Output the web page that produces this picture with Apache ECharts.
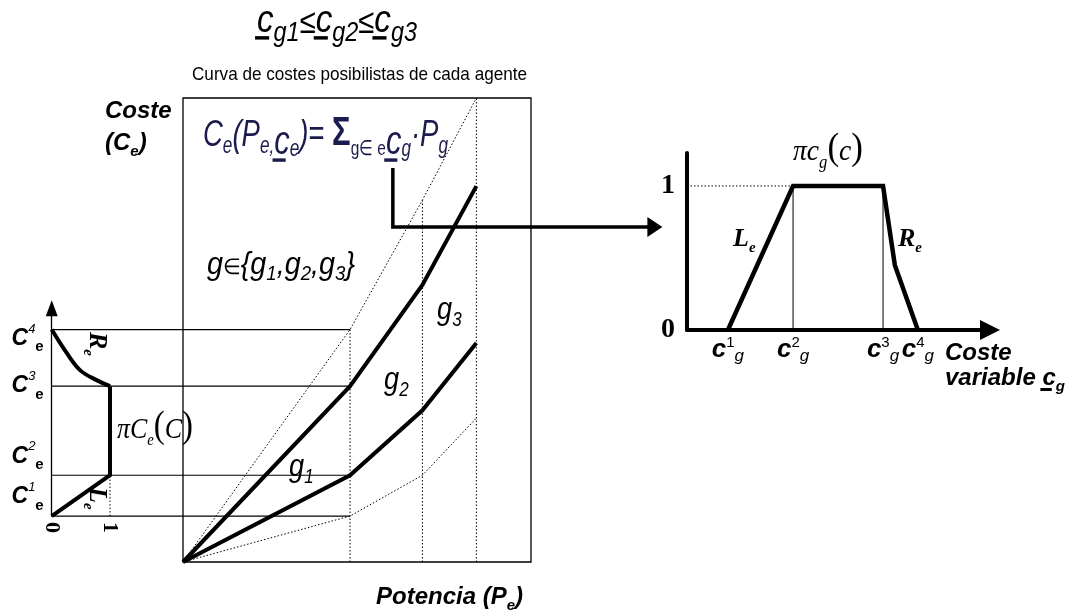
<!DOCTYPE html>
<html>
<head>
<meta charset="utf-8">
<title>Curva de costes posibilistas de cada agente</title>
<script src="https://cdn.jsdelivr.net/npm/echarts@6/dist/echarts.min.js"></script>
<style>
  html, body { margin: 0; padding: 0; background: #fff; }
  #chart { width: 1070px; height: 614px; }
</style>
</head>
<body>
<div id="chart"></div>
<script>
// ---- data, in axis units ----
// main chart: power P (x) against cost C (y), both 0..100
const powerSteps = [0, 48, 68.8, 84.3]
const costG1 = [0, 18.7, 32.7, 47.2]
const costG3 = [0, 37.9, 59.7, 81.0]
const costBoundHigh = [0, 50.1, 78.0, 100]
const costBoundLow = [0, 9.9, 18.7, 31.0]
const costLevels = [9.9, 18.7, 37.9, 50.1] // C1e .. C4e
const costAxisTop = 54.7

// left: possibility of the total cost (rotated)
const leftPoss = [0, 1, 1]
const leftCost = [9.9, 18.7, 37.9]
const tailPoss = [1, 0.77, 0.49, 0.26, 0]
const tailCost = [37.9, 39.2, 41.3, 45.0, 50.1]
const possTicks = [0, 1]

// right: trapezoid of the variable cost c_g
const cgTicks = [13.5, 35.0, 64.7, 76.2]
const trapCost = [13.5, 35.0, 64.7, 68.6, 76.2]
const trapPoss = [0, 1, 1, 0.45, 0]

// connector from the formula to the trapezoid (main chart units)
const linkP = [60.3, 60.3, 135.6]
const linkC = [84.9, 72.2, 72.2]

// ---- layout ----
const MAIN = { left: 183, top: 98, width: 348, height: 464 }
const pxC = MAIN.height / 100
const pxP = MAIN.width / 100
const miniLeft = 51.7
const miniWidth = 58.3
const miniTop = MAIN.top + (100 - costAxisTop) * pxC
const miniBottom = MAIN.top + (100 - costLevels[0]) * pxC
// overlay grid with the main scales, stretched left to the cost axis and right to the trapezoid
const overStartP = (miniLeft - MAIN.left) / pxP
const overEndP = 140

const zip = (xs, ys) => xs.map((x, i) => [x, ys[i]])

function lineSeries(grid, data, width, dash, extra) {
  return Object.assign({
    type: 'line', xAxisIndex: grid, yAxisIndex: grid, data,
    showSymbol: false, symbol: 'none', silent: true, animation: false,
    lineStyle: { color: '#000', width, type: dash || 'solid', cap: 'butt', join: 'miter' },
    z: width > 2 ? 4 : 3
  }, extra || {})
}

// small text layout helper: runs of text with sub/superscripts and underlines
const mctx = document.createElement('canvas').getContext('2d')
function mathText(x, y, runs, o) {
  o = o || {}
  const color = o.color || '#000'
  const kids = []
  let cx = 0
  runs.forEach(r => {
    const font = `${r.st || o.st || 'italic'} ${r.w || o.w || 'normal'} ${r.s}px "${r.f || o.f || 'Liberation Sans'}"`
    mctx.font = font
    const w = mctx.measureText(r.t).width
    const base = r.dy || 0
    kids.push({
      type: 'text', x: cx, y: base - 0.345 * r.s,
      style: { text: r.t, font, fill: color, align: 'left', verticalAlign: 'middle', textAlign: 'left', textVerticalAlign: 'middle' }
    })
    if (r.u) kids.push({ type: 'rect', shape: { x: cx - 2, y: base + 1, width: w * 0.85, height: 3 }, style: { fill: color } })
    cx += w
  })
  const sx = o.width ? o.width / cx : (o.sx || 1)
  return { type: 'group', x, y, scaleX: sx, scaleY: o.sy || 1, rotation: o.rot || 0, silent: true, children: kids }
}

const series = []
// guide lines at the cost levels, from the cost axis to the first step
costLevels.forEach(c => series.push(lineSeries(3, [[overStartP, c], [powerSteps[1], c]], 1.2)))
// dotted verticals at the power steps
powerSteps.slice(1).forEach((p, i) => series.push(lineSeries(0, [[p, 0], [p, costBoundHigh[i + 1]]], 1, [1.5, 2])))
series.push(lineSeries(0, zip(powerSteps, costBoundHigh), 1, [1.5, 2]))
series.push(lineSeries(0, zip(powerSteps, costBoundLow), 1, [1.5, 2]))
series.push(lineSeries(0, zip(powerSteps, costG1), 4))
series.push(lineSeries(0, zip(powerSteps, costG3), 4))
// connector with arrow head
series.push(lineSeries(3, zip(linkP, linkC).map((v, i) => i === linkP.length - 1
  ? { value: v, symbol: 'triangle', symbolSize: [20, 15], symbolRotate: -90 }
  : { value: v, symbol: 'none' }), 3.5, 'solid', { showSymbol: true, itemStyle: { color: '#000' }, z: 6 }))

// left possibility curve
series.push(lineSeries(1, zip(leftPoss, leftCost), 4, 'solid', { clip: false }))
series.push(lineSeries(1, zip(tailPoss, tailCost), 4, 'solid', { clip: false, smooth: 0.35 }))
series.push(lineSeries(1, [[1, leftCost[0]], [1, leftCost[1]]], 1, [1.5, 2], { clip: false }))

// right trapezoid
series.push(lineSeries(2, [[0, 1], [cgTicks[1], 1]], 1, [1.5, 2]))
series.push(lineSeries(2, [[cgTicks[1], 0], [cgTicks[1], 1]], 1))
series.push(lineSeries(2, [[cgTicks[2], 0], [cgTicks[2], 1]], 1))
series.push(lineSeries(2, zip(trapCost, trapPoss), 4.5))

const hidden = { show: false }
const SANS = 'Liberation Sans'
const SERIF = 'Liberation Serif'

// cost level labels C^k_e, split over two stacked axes so their boxes never collide
const costRich = {
  C: { fontSize: 23, fontWeight: 'bold', fontStyle: 'italic', fontFamily: SANS, lineHeight: 32, color: '#000' },
  sup: { fontSize: 13, fontStyle: 'italic', fontFamily: SANS, lineHeight: 20, verticalAlign: 'top', color: '#000' },
  sub: { fontSize: 15, fontWeight: 'bold', fontFamily: SANS, lineHeight: 10, verticalAlign: 'bottom', color: '#000' },
  gap: { fontSize: 2, lineHeight: 3 },
  gap2: { fontSize: 2, lineHeight: 18 }
}
function costLabel(v) {
  const i = costLevels.findIndex(t => Math.abs(t - v) < 1e-6)
  const t = `{C|C}{sup|${i + 1}}{sub|e}`
  if (i < 2) return t + '\n{gap| }'
  if (i === 3) return '{gap2| }\n' + t
  return t
}

const option = {
  backgroundColor: '#fff',
  animation: false,
  grid: [
    { left: MAIN.left, top: MAIN.top, width: MAIN.width, height: MAIN.height, show: true, borderColor: '#000', borderWidth: 1.3, backgroundColor: 'transparent', outerBoundsMode: 'none' },
    { left: miniLeft, top: miniTop, width: miniWidth, height: miniBottom - miniTop, outerBoundsMode: 'none' },
    { left: 687, top: 153, width: 303, height: 177, outerBoundsMode: 'none' },
    { left: miniLeft, top: MAIN.top, width: (overEndP - overStartP) * pxP, height: MAIN.height, outerBoundsMode: 'none' }
  ],
  xAxis: [
    { gridIndex: 0, type: 'value', min: 0, max: 100, show: false },
    {
      gridIndex: 1, type: 'value', min: 0, max: 1,
      axisLine: hidden, axisTick: hidden, splitLine: hidden,
      axisLabel: { customValues: possTicks, rotate: -90, margin: 6, fontFamily: SERIF, fontWeight: 'bold', fontSize: 22, color: '#000', showMinLabel: true, showMaxLabel: true, hideOverlap: false }
    },
    {
      gridIndex: 2, type: 'value', min: 0, max: 100,
      axisLine: { show: true, lineStyle: { color: '#000', width: 4 }, symbol: ['none', 'triangle'], symbolSize: [20, 20] },
      axisTick: hidden, splitLine: hidden,
      axisLabel: {
        customValues: cgTicks, margin: 5, color: '#000', hideOverlap: false,
        formatter: v => {
          const i = cgTicks.findIndex(t => Math.abs(t - v) < 1e-6)
          return `{c|c}{sup|${i + 1}}{sub|g}`
        },
        rich: {
          c: { fontSize: 26, fontWeight: 'bold', fontStyle: 'italic', fontFamily: SANS, lineHeight: 30, color: '#000' },
          sup: { fontSize: 15, fontFamily: SANS, lineHeight: 25, verticalAlign: 'top', color: '#000' },
          sub: { fontSize: 17, fontStyle: 'italic', fontFamily: SANS, lineHeight: 15, verticalAlign: 'bottom', color: '#000' }
        }
      }
    },
    { gridIndex: 3, type: 'value', min: overStartP, max: overEndP, show: false }
  ],
  yAxis: [
    { gridIndex: 0, type: 'value', min: 0, max: 100, show: false },
    {
      gridIndex: 1, type: 'value', min: costLevels[0], max: costAxisTop, position: 'left',
      axisLine: { show: true, lineStyle: { color: '#000', width: 1.3 }, symbol: ['none', 'triangle'], symbolSize: [12, 16] },
      axisTick: hidden, splitLine: hidden,
      axisLabel: {
        customValues: costLevels.slice(0, 2), margin: 8, color: '#000', verticalAlign: 'bottom',
        showMinLabel: true, showMaxLabel: true, hideOverlap: false,
        formatter: costLabel, rich: costRich
      }
    },
    {
      gridIndex: 2, type: 'value', min: 0, max: 1.229,
      axisLine: { show: true, lineStyle: { color: '#000', width: 4 } },
      axisTick: hidden, splitLine: hidden,
      axisLabel: { customValues: possTicks, margin: 12, fontFamily: SERIF, fontWeight: 'bold', fontSize: 28, color: '#000', showMinLabel: true, hideOverlap: false }
    },
    { gridIndex: 3, type: 'value', min: 0, max: 100, show: false },
    {
      gridIndex: 1, type: 'value', min: costLevels[0], max: costAxisTop, position: 'left', offset: 0,
      axisLine: hidden, axisTick: hidden, splitLine: hidden,
      axisLabel: {
        customValues: costLevels.slice(2), margin: 8, color: '#000',
        showMinLabel: true, showMaxLabel: true, hideOverlap: false,
        formatter: costLabel, rich: costRich
      }
    }
  ],
  series,
  graphic: [
    mathText(257, 35, [
      { t: 'c', s: 34, u: 1 }, { t: 'g1', s: 24, dy: 7 }, { t: '≤', s: 30, st: 'normal' },
      { t: 'c', s: 34, u: 1 }, { t: 'g2', s: 24, dy: 7 }, { t: '≤', s: 30, st: 'normal' },
      { t: 'c', s: 34, u: 1 }, { t: 'g3', s: 24, dy: 7 }
    ], { width: 160, sy: 1.15 }),
    mathText(192, 81, [{ t: 'Curva de costes posibilistas de cada agente', s: 19, st: 'normal' }], { width: 335 }),
    mathText(105, 120, [{ t: 'Coste', s: 24 }], { w: 'bold' }),
    mathText(105, 152, [{ t: '(', s: 24 }, { t: 'C', s: 24 }, { t: 'e', s: 15, dy: 5 }, { t: ')', s: 24 }], { w: 'bold' }),
    mathText(203, 148, [
      { t: 'C', s: 32 }, { t: 'e', s: 20, dy: 6 }, { t: '(', s: 32 }, { t: 'P', s: 32 }, { t: 'e', s: 20, dy: 6 }, { t: ',', s: 20, dy: 6 },
      { t: 'c', s: 36, dy: 8, u: 1 }, { t: 'e', s: 20, dy: 8 }, { t: ')', s: 32 }, { t: '= ', s: 32, st: 'normal' },
      { t: 'Σ', s: 36, st: 'normal', w: 'bold' }, { t: 'g∈ e', s: 18, dy: 7, st: 'normal' },
      { t: 'c', s: 36, dy: 8, u: 1 }, { t: 'g', s: 20, dy: 8 }, { t: '·', s: 32 }, { t: 'P', s: 32 }, { t: 'g', s: 20, dy: 6 }
    ], { width: 245, sy: 1.15, color: '#1b1b4d' }),
    mathText(207, 276, [
      { t: 'g', s: 31 }, { t: '∈', s: 22, st: 'normal' }, { t: '{', s: 31 },
      { t: 'g', s: 31 }, { t: '1', s: 20, dy: 5 }, { t: ',', s: 31 },
      { t: 'g', s: 31 }, { t: '2', s: 20, dy: 5 }, { t: ',', s: 31 },
      { t: 'g', s: 31 }, { t: '3', s: 20, dy: 5 }, { t: '}', s: 31 }
    ], { width: 148 }),
    mathText(289, 478, [{ t: 'g', s: 32 }, { t: '1', s: 20, dy: 6 }], { sx: 0.85 }),
    mathText(384, 391, [{ t: 'g', s: 32 }, { t: '2', s: 20, dy: 6 }], { sx: 0.85 }),
    mathText(437, 321, [{ t: 'g', s: 32 }, { t: '3', s: 20, dy: 6 }], { sx: 0.85 }),
    mathText(117, 440, [
      { t: 'π', s: 30 }, { t: 'C', s: 30 }, { t: 'e', s: 17, dy: 6 },
      { t: '(', s: 38, st: 'normal' }, { t: 'C', s: 30 }, { t: ')', s: 38, st: 'normal' }
    ], { f: SERIF, width: 76 }),
    mathText(88, 332, [{ t: 'R', s: 26 }, { t: 'e', s: 15, dy: 5 }], { f: SERIF, w: 'bold', rot: -Math.PI / 2 }),
    mathText(88, 487, [{ t: 'L', s: 26 }, { t: 'e', s: 15, dy: 5 }], { f: SERIF, w: 'bold', rot: -Math.PI / 2 }),
    mathText(376, 606, [{ t: 'Potencia (', s: 24 }, { t: 'P', s: 24 }, { t: 'e', s: 15, dy: 5 }, { t: ')', s: 24 }], { w: 'bold' }),
    mathText(793, 162, [
      { t: 'π', s: 30 }, { t: 'c', s: 30 }, { t: 'g', s: 18, dy: 7 },
      { t: '(', s: 38, st: 'normal' }, { t: 'c', s: 30 }, { t: ')', s: 38, st: 'normal' }
    ], { f: SERIF, width: 70 }),
    mathText(733, 248, [{ t: 'L', s: 26 }, { t: 'e', s: 15, dy: 5 }], { f: SERIF, w: 'bold' }),
    mathText(898, 248, [{ t: 'R', s: 26 }, { t: 'e', s: 15, dy: 5 }], { f: SERIF, w: 'bold' }),
    mathText(945, 362, [{ t: 'Coste', s: 24 }], { w: 'bold' }),
    mathText(945, 387, [{ t: 'variable ', s: 24 }, { t: 'c', s: 24, u: 1 }, { t: 'g', s: 15, dy: 5 }], { w: 'bold' })
  ]
}

const chart = echarts.init(document.getElementById('chart'))
chart.setOption(option)
</script>
</body>
</html>
